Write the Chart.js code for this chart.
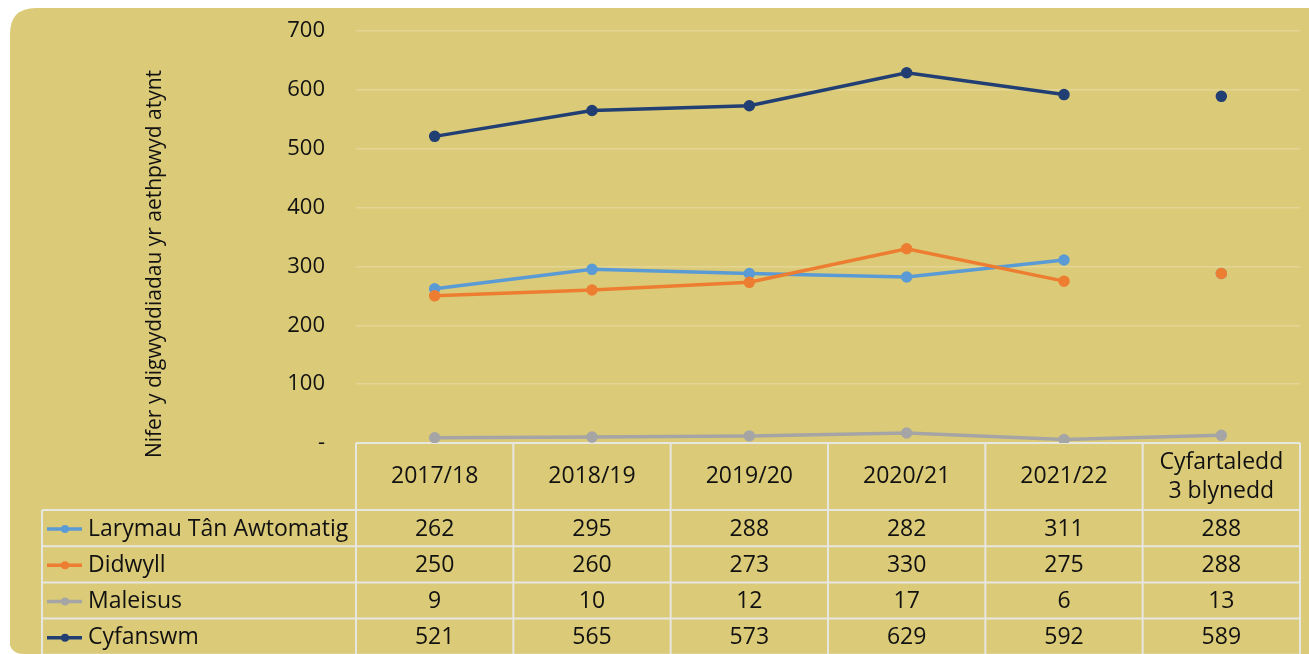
<!DOCTYPE html>
<html>
<head>
<meta charset="utf-8">
<script src="https://cdn.jsdelivr.net/npm/chart.js@4/dist/chart.umd.min.js"></script>
<style>
  html, body { margin: 0; padding: 0; background: #ffffff; }
  #wrap { width: 1309px; height: 654px; position: relative; }
</style>
</head>
<body>
<div id="wrap"><canvas id="chart" width="1309" height="654"></canvas></div>
<script>
// Chart data
const categories = ['2017/18', '2018/19', '2019/20', '2020/21', '2021/22', ['Cyfartaledd', '3 blynedd']];
const seriesNames = ['Larymau Tân Awtomatig', 'Didwyll', 'Maleisus', 'Cyfanswm'];
const larymau = [262, 295, 288, 282, 311, 288];
const didwyll = [250, 260, 273, 330, 275, 288];
const maleisus = [9, 10, 12, 17, 6, 13];
const cyfanswm = [521, 565, 573, 629, 592, 589];
const yTicks = [0, 100, 200, 300, 400, 500, 600, 700];
const yTitle = 'Nifer y digwyddiadau yr aethpwyd atynt';

const colors = ['#5B9BD5', '#ED7D31', '#A5A5A5', '#223F73'];
const FONT = "'Open Sans', 'DejaVu Sans', sans-serif";
const PANEL = '#DBCB78';
const TABLE_LINE = 'rgba(232,232,232,0.95)';

// hide the segment leading to the average for series that are not joined to it
function gapBeforeAverage(ctx) {
  return ctx.p1DataIndex === categories.length - 1 ? 'rgba(0,0,0,0)' : undefined;
}

function makeDataset(label, data, color, joined, order) {
  const ds = {
    label: label,
    data: data,
    order: order,
    borderColor: color,
    backgroundColor: color,
    pointBackgroundColor: color,
    pointBorderColor: color,
    borderWidth: 3.5,
    pointRadius: 4,
    pointHoverRadius: 4,
    tension: 0,
    fill: false
  };
  if (!joined) ds.segment = { borderColor: gapBeforeAverage };
  return ds;
}

// Background panel with rounded left corners
const panelPlugin = {
  id: 'panel',
  beforeDraw(chart) {
    const c = chart.ctx;
    const x = 10, y = 8, w = chart.width + 20, h = chart.height - 8 + 20, r = 26;
    c.save();
    c.fillStyle = '#ffffff';
    c.fillRect(0, 0, chart.width, chart.height);
    c.fillStyle = PANEL;
    c.beginPath();
    c.moveTo(x + r, y);
    c.lineTo(x + w, y);
    c.lineTo(x + w, y + h);
    c.lineTo(x, y + h);
    c.lineTo(x, y + r);
    c.quadraticCurveTo(x, y, x + r, y);
    c.closePath();
    c.fill();
    // bottom-left corner rounding
    c.fillStyle = '#ffffff';
    c.beginPath();
    c.moveTo(x - 1, chart.height - 14);
    c.quadraticCurveTo(x, chart.height, x + 14, chart.height);
    c.lineTo(x - 1, chart.height);
    c.closePath();
    c.fill();

    // y axis title (sits a bit below the axis middle in the original)
    c.fillStyle = '#111111';
    c.font = '21px ' + FONT;
    c.textAlign = 'center';
    c.textBaseline = 'middle';
    c.translate(155, 264);
    c.rotate(-Math.PI / 2);
    c.fillText(yTitle, 0, 0);
    c.restore();
  }
};

// Data table under the plot, built from the x scale
const tablePlugin = {
  id: 'dataTable',
  beforeDatasetsDraw(chart) {
    const c = chart.ctx;
    const xs = chart.scales.x;
    const area = chart.chartArea;
    const n = categories.length;
    const colW = (area.right - area.left) / n;
    const legendLeft = 42;
    const headerTop = area.bottom;
    const headerBottom = 510;
    const rowH = 36.2;
    const rows = [larymau, didwyll, maleisus, cyfanswm];
    const tableBottom = headerBottom + rowH * rows.length;

    c.save();
    c.strokeStyle = TABLE_LINE;
    c.lineWidth = 2;
    c.beginPath();
    c.moveTo(area.left, headerTop);
    c.lineTo(area.right, headerTop);
    for (let i = 0; i <= n; i++) {
      const x = area.left + i * colW;
      c.moveTo(x, headerTop);
      c.lineTo(x, tableBottom);
    }
    c.moveTo(legendLeft, headerBottom);
    c.lineTo(legendLeft, tableBottom);
    for (let r = 0; r <= rows.length; r++) {
      const y = headerBottom + r * rowH;
      c.moveTo(legendLeft, y);
      c.lineTo(area.right, y);
    }
    c.stroke();

    c.fillStyle = '#111111';
    c.font = '23px ' + FONT;
    c.textAlign = 'center';
    c.textBaseline = 'middle';
    categories.forEach((cat, i) => {
      const cx = xs.getPixelForValue(i);
      const lines = Array.isArray(cat) ? cat : [cat];
      const cy = (headerTop + headerBottom) / 2;
      const lh = 29;
      lines.forEach((t, k) => {
        c.fillText(t, cx, cy + (k - (lines.length - 1) / 2) * lh);
      });
    });

    rows.forEach((vals, r) => {
      const cy = headerBottom + r * rowH + rowH / 2 + 1;
      c.textAlign = 'center';
      c.fillStyle = '#111111';
      vals.forEach((v, i) => {
        c.fillText(String(v), xs.getPixelForValue(i), cy);
      });
      // legend key
      c.strokeStyle = colors[r];
      c.lineWidth = 3.5;
      c.beginPath();
      c.moveTo(47, cy);
      c.lineTo(82, cy);
      c.stroke();
      c.fillStyle = colors[r];
      c.beginPath();
      c.arc(65, cy, 4, 0, Math.PI * 2);
      c.fill();
      c.fillStyle = '#111111';
      c.textAlign = 'left';
      c.fillText(seriesNames[r], 88, cy);
    });
    c.restore();
  }
};

new Chart(document.getElementById('chart').getContext('2d'), {
  type: 'line',
  data: {
    labels: categories,
    datasets: [
      makeDataset(seriesNames[0], larymau, colors[0], false, 4),
      makeDataset(seriesNames[1], didwyll, colors[1], false, 3),
      makeDataset(seriesNames[2], maleisus, colors[2], true, 2),
      makeDataset(seriesNames[3], cyfanswm, colors[3], false, 1)
    ]
  },
  options: {
    responsive: false,
    animation: false,
    layout: { padding: { left: 10, right: 9, top: 31, bottom: 211 } },
    plugins: {
      legend: { display: false },
      tooltip: { enabled: false }
    },
    scales: {
      x: {
        display: false,
        offset: true
      },
      y: {
        min: yTicks[0],
        max: yTicks[yTicks.length - 1],
        afterFit(scale) {
          scale.width = 346;
          scale.paddingTop = 0;
          scale.paddingBottom = 0;
        },
        afterBuildTicks(scale) { scale.ticks = yTicks.map(v => ({ value: v })); },
        ticks: {
          padding: 31,
          color: '#111111',
          font: { family: FONT, size: 22 },
          callback: v => (v === 0 ? '-' : String(v))
        },
        grid: {
          color: ctx => (ctx.tick && ctx.tick.value === 0 ? 'rgba(0,0,0,0)' : 'rgba(255,255,255,0.22)'),
          lineWidth: 1.5,
          drawTicks: false
        },
        border: { display: false },
        title: { display: false }
      }
    }
  },
  plugins: [panelPlugin, tablePlugin]
});
</script>
</body>
</html>
